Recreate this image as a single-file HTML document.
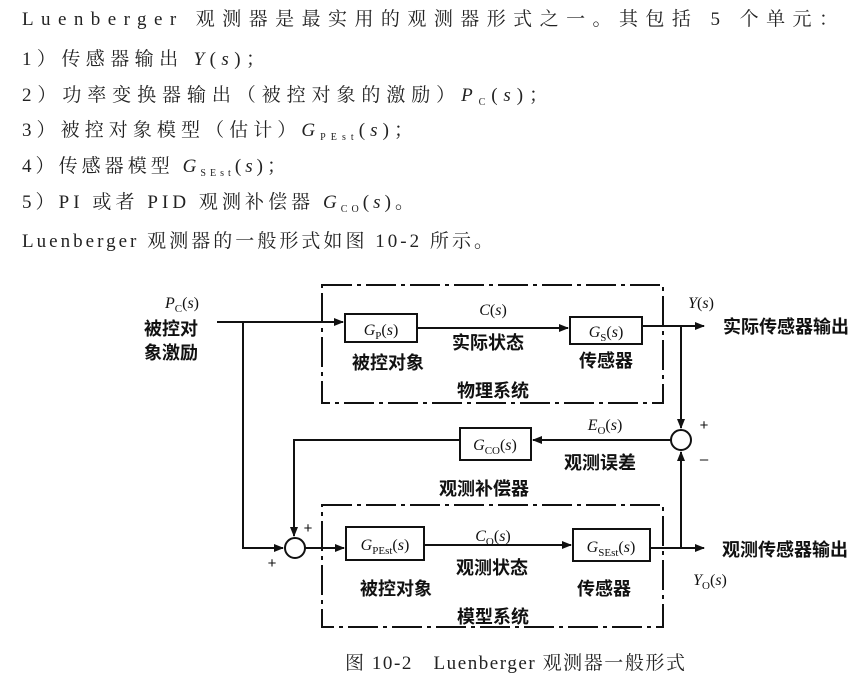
<!DOCTYPE html>
<html><head><meta charset="utf-8"><style>
html,body{margin:0;padding:0;background:#fff;width:864px;height:688px;overflow:hidden}
svg{display:block}
.t{font-family:"Liberation Serif","Noto Serif CJK SC",serif;font-size:19px;fill:#222}
.c{font-family:"Liberation Sans","Noto Sans CJK SC",sans-serif;font-size:18px;font-weight:bold;fill:#111}
.p{font-family:"Liberation Sans",sans-serif;font-size:15px;fill:#111}
.m{font-family:"Liberation Serif",serif;font-style:italic;font-size:16px;fill:#111}
.s{font-size:11px;font-style:normal}
</style></head><body>
<svg width="864" height="688" viewBox="0 0 864 688" xmlns="http://www.w3.org/2000/svg">
<defs><marker id="a" markerWidth="10" markerHeight="8" refX="9" refY="4" orient="auto" markerUnits="userSpaceOnUse"><path d="M0,0 L10,4 L0,8 z" fill="#111"/></marker></defs>
<text class="t" x="22" y="25" textLength="816" lengthAdjust="spacing">Luenberger 观测器是最实用的观测器形式之一。其包括 5 个单元：</text>
<text class="t" x="22" y="65" textLength="243" lengthAdjust="spacing">1）传感器输出 <tspan font-style="italic">Y</tspan>(<tspan font-style="italic">s</tspan>)；</text>
<text class="t" x="22" y="101" textLength="526" lengthAdjust="spacing">2）功率变换器输出（被控对象的激励）<tspan font-style="italic">P</tspan><tspan font-size="10" dy="4">C</tspan><tspan dy="-4">(</tspan><tspan font-style="italic">s</tspan>)；</text>
<text class="t" x="22" y="136" textLength="391" lengthAdjust="spacing">3）被控对象模型（估计）<tspan font-style="italic">G</tspan><tspan font-size="10" dy="4">PEst</tspan><tspan dy="-4">(</tspan><tspan font-style="italic">s</tspan>)；</text>
<text class="t" x="22" y="172" textLength="264" lengthAdjust="spacing">4）传感器模型 <tspan font-style="italic">G</tspan><tspan font-size="10" dy="4">SEst</tspan><tspan dy="-4">(</tspan><tspan font-style="italic">s</tspan>)；</text>
<text class="t" x="22" y="208" textLength="392" lengthAdjust="spacing">5）PI 或者 PID 观测补偿器 <tspan font-style="italic">G</tspan><tspan font-size="10" dy="4">CO</tspan><tspan dy="-4">(</tspan><tspan font-style="italic">s</tspan>)。</text>
<text class="t" x="22" y="247" textLength="471" lengthAdjust="spacing">Luenberger 观测器的一般形式如图 10-2 所示。</text>

<g stroke="#111" stroke-width="2" fill="none">
<rect x="322" y="285" width="341" height="118" stroke-dasharray="30,5,4,5"/>
<rect x="322" y="505" width="341" height="122" stroke-dasharray="30,5,4,5"/>
<rect x="345" y="314" width="72" height="28" fill="#fff"/>
<rect x="570" y="317" width="72" height="27" fill="#fff"/>
<rect x="460" y="428" width="71" height="32" fill="#fff"/>
<rect x="346" y="527" width="78" height="33" fill="#fff"/>
<rect x="573" y="529" width="77" height="32" fill="#fff"/>
<circle cx="681" cy="440" r="10"/>
<circle cx="295" cy="548" r="10"/>
<path d="M217,322 H343" marker-end="url(#a)"/>
<path d="M243,322 V548 H283" marker-end="url(#a)"/>
<path d="M417,328 H568" marker-end="url(#a)"/>
<path d="M642,326 H704" marker-end="url(#a)"/>
<path d="M681,326 V428" marker-end="url(#a)"/>
<path d="M671,440 H533" marker-end="url(#a)"/>
<path d="M460,440 H294 V536" marker-end="url(#a)"/>
<path d="M305,548 H344" marker-end="url(#a)"/>
<path d="M424,545 H571" marker-end="url(#a)"/>
<path d="M650,548 H704" marker-end="url(#a)"/>
<path d="M681,548 V452" marker-end="url(#a)"/>
</g>
<g text-anchor="middle">
<text class="m" x="182" y="308">P<tspan class="s" dy="4">C</tspan><tspan dy="-4" font-style="normal">(</tspan>s<tspan font-style="normal">)</tspan></text>
<text class="c" x="171" y="335">被控对</text>
<text class="c" x="171" y="359">象激励</text>
<text class="m" x="381" y="335">G<tspan class="s" dy="4">P</tspan><tspan dy="-4" font-style="normal">(</tspan>s<tspan font-style="normal">)</tspan></text>
<text class="m" x="606" y="337">G<tspan class="s" dy="4">S</tspan><tspan dy="-4" font-style="normal">(</tspan>s<tspan font-style="normal">)</tspan></text>
<text class="m" x="493" y="315">C<tspan font-style="normal">(</tspan>s<tspan font-style="normal">)</tspan></text>
<text class="c" x="488" y="349">实际状态</text>
<text class="c" x="388" y="369">被控对象</text>
<text class="c" x="606" y="367">传感器</text>
<text class="c" x="493" y="397">物理系统</text>
<text class="m" x="701" y="308">Y<tspan font-style="normal">(</tspan>s<tspan font-style="normal">)</tspan></text>
<text class="c" x="786" y="333">实际传感器输出</text>
<text class="m" x="605" y="430">E<tspan class="s" dy="4">O</tspan><tspan dy="-4" font-style="normal">(</tspan>s<tspan font-style="normal">)</tspan></text>
<text class="p" x="704" y="430">+</text>
<text class="p" x="704" y="464">–</text>
<text class="m" x="495" y="450">G<tspan class="s" dy="4">CO</tspan><tspan dy="-4" font-style="normal">(</tspan>s<tspan font-style="normal">)</tspan></text>
<text class="c" x="600" y="469">观测误差</text>
<text class="c" x="484" y="495">观测补偿器</text>
<text class="p" x="308" y="533">+</text>
<text class="p" x="272" y="568">+</text>
<text class="m" x="385" y="550">G<tspan class="s" dy="4">PEst</tspan><tspan dy="-4" font-style="normal">(</tspan>s<tspan font-style="normal">)</tspan></text>
<text class="m" x="611" y="552">G<tspan class="s" dy="4">SEst</tspan><tspan dy="-4" font-style="normal">(</tspan>s<tspan font-style="normal">)</tspan></text>
<text class="m" x="493" y="541">C<tspan class="s" dy="4">O</tspan><tspan dy="-4" font-style="normal">(</tspan>s<tspan font-style="normal">)</tspan></text>
<text class="c" x="492" y="574">观测状态</text>
<text class="c" x="396" y="595">被控对象</text>
<text class="c" x="604" y="595">传感器</text>
<text class="m" x="710" y="585">Y<tspan class="s" dy="4">O</tspan><tspan dy="-4" font-style="normal">(</tspan>s<tspan font-style="normal">)</tspan></text>
<text class="c" x="785" y="556">观测传感器输出</text>
<text class="c" x="493" y="623">模型系统</text>
</g>
<text class="t" x="345" y="669" font-size="17" textLength="340" lengthAdjust="spacing">图 10-2　Luenberger 观测器一般形式</text>
</svg>
</body></html>
